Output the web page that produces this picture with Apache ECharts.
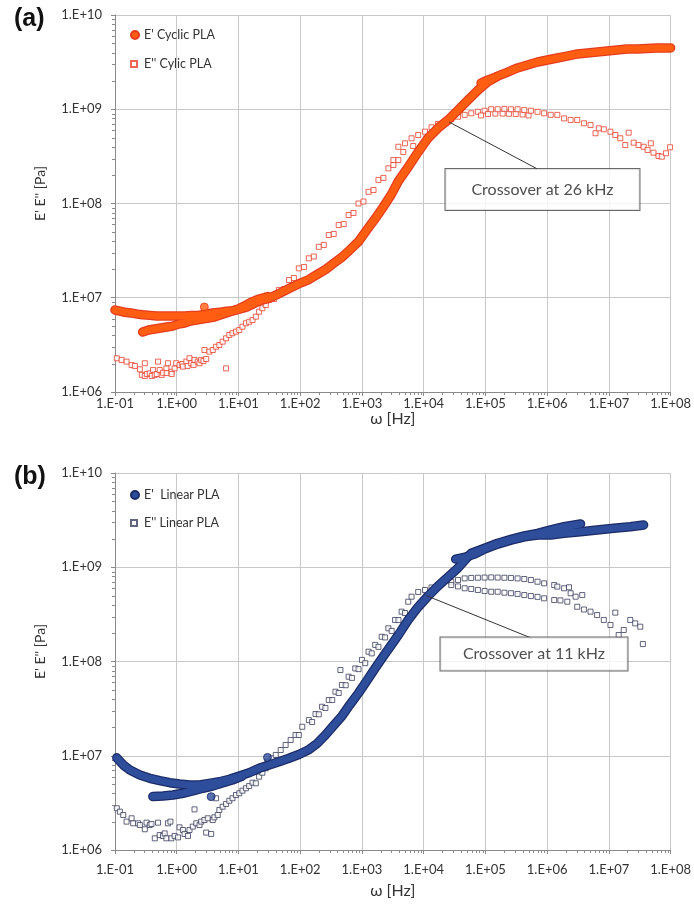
<!DOCTYPE html>
<html>
<head>
<meta charset="utf-8">
<script src="https://cdn.jsdelivr.net/npm/echarts@6/dist/echarts.min.js"></script>
<style>
  html, body { margin: 0; padding: 0; background: #ffffff; }
  #chart { width: 694px; height: 905px; }
</style>
</head>
<body>
<div id="chart"></div>
<script>
// ---------- (a) Cyclic PLA: storage modulus E' [Hz, Pa] ----------
const aStorageSweep1 = [[0.10,7.4e6],[0.12,7.2e6],[0.145,7.0e6],[0.18,6.9e6],[0.23,6.7e6],[0.28,6.6e6],[0.37,6.5e6],[0.47,6.4e6],[0.62,6.4e6],[0.80,6.4e6],[1.03,6.4e6],[1.34,6.4e6],[1.74,6.5e6],[2.25,6.5e6],[2.9,6.7e6],[3.8,6.9e6],[4.9,7.0e6],[6.4,7.2e6],[8.3,7.3e6],[10.7,7.6e6],[13.9,8.0e6],[17.9,8.7e6],[23,9.4e6],[30,9.8e6],[41,1.07e7],[55,1.18e7],[74,1.30e7],[103,1.44e7],[138,1.56e7],[186,1.76e7],[259,2.0e7],[349,2.32e7],[469,2.68e7],[631,3.2e7],[881,3.95e7],[1190,5.2e7],[1660,7.0e7],[2230,9.25e7],[3000,1.25e8],[3880,1.72e8],[5620,2.44e8],[8150,3.52e8],[1.18e4,4.95e8],[1.71e4,6.32e8],[2.48e4,7.69e8],[3.6e4,9.8e8],[5.2e4,1.25e9],[7.6e4,1.6e9],[1.09e5,1.95e9],[1.58e5,2.25e9],[2.3e5,2.48e9],[3.3e5,2.74e9],[4.8e5,2.95e9],[7.0e5,3.17e9],[1.01e6,3.33e9],[1.47e6,3.5e9],[2.1e6,3.67e9],[3.1e6,3.86e9],[4.5e6,3.95e9],[6.5e6,4.05e9],[9.4e6,4.15e9],[1.36e7,4.25e9],[1.96e7,4.36e9],[2.84e7,4.36e9],[4.1e7,4.41e9],[6.0e7,4.47e9],[1.0e8,4.47e9]];
const aStorageSweep2 = [[0.28,4.33e6],[0.35,4.55e6],[0.44,4.66e6],[0.55,4.77e6],[0.69,4.89e6],[0.86,5.0e6],[1.07,5.26e6],[1.34,5.39e6],[1.67,5.66e6],[2.09,5.8e6],[2.61,5.95e6],[3.26,6.1e6],[4.07,6.25e6],[5.09,6.56e6],[6.37,6.89e6],[7.95,7.23e6],[9.93,7.6e6],[12.4,8.17e6],[16.1,9.0e6],[21.6,9.7e6],[30,1.03e7]];
const aStorageStep = [[8.5e4,1.9e9],[1.1e5,2.05e9],[1.5e5,2.2e9]];
const aStorageStray = [[2.8,7.98e6]];

// ---------- (a) Cyclic PLA: loss modulus E'' ----------
const aLoss = [
  [0.107,2.28e6],[0.128,2.19e6],[0.154,2.10e6],[0.186,1.93e6],[0.21,1.89e6],[0.253,1.74e6],[0.272,1.52e6],[0.304,1.48e6],[0.304,2.02e6],[0.328,1.55e6],[0.366,1.58e6],[0.394,1.48e6],[0.414,1.71e6],[0.441,1.52e6],[0.474,1.55e6],[0.498,2.10e6],[0.53,1.71e6],[0.57,1.52e6],[0.598,1.60e6],[0.68,1.78e6],[0.688,1.59e6],[0.72,2.02e6],[0.82,1.64e6],[0.827,1.55e6],[0.924,1.78e6],[0.98,2.02e6],
  [1.11,1.93e6],[1.23,1.98e6],[1.26,1.86e6],[1.43,2.10e6],[1.5,1.89e6],[1.61,2.28e6],[1.72,2.02e6],[1.87,1.93e6],[1.94,2.19e6],[2.19,2.10e6],[2.34,2.02e6],[2.49,2.19e6],[2.71,2.13e6],[2.81,2.79e6],[3.0,2.24e6],[3.38,2.68e6],[3.83,2.79e6],[4.34,3.02e6],[4.9,3.15e6],[5.54,3.42e6],[6.3,1.78e6],[6.3,3.71e6],[7.1,4.03e6],[8.0,4.2e6],[9.1,4.37e6],
  [10.3,4.55e6],[11.6,4.93e6],[13.2,5.36e6],[14.9,5.56e6],[16.9,5.8e6],[19.1,6.3e6],[21.6,7.11e6],[24.4,7.74e6],[27.7,8.37e6],[31.3,9.47e6],[37.7,9.7e6],[45.4,1.21e7],[54.7,1.24e7],[65.8,1.54e7],[79,1.62e7],[95,2.05e7],
  [115,2.12e7],[138,2.62e7],[166,2.74e7],[200,3.47e7],[241,3.63e7],[290,4.63e7],[349,4.75e7],[420,5.91e7],[506,6.05e7],[608,7.55e7],[730,7.93e7],[880,1.0e8],
  [1060,1.05e8],[1280,1.33e8],[1540,1.39e8],[1850,1.78e8],[2230,1.87e8],[2680,2.36e8],[3230,2.56e8],[3230,2.89e8],[3890,2.89e8],[3890,4.0e8],[4670,3.52e8],[4970,4.35e8],[6360,4.92e8],[6770,4.07e8],[8150,5.33e8],
  [1.05e4,5.78e8],[1.34e4,6.43e8],[1.71e4,6.97e8],[2.19e4,7.37e8],[2.8e4,7.88e8],[3.6e4,8.34e8],[4.61e4,8.72e8],[5.89e4,9.06e8],[7.55e4,9.4e8],[9.7e4,9.65e8],
  [8.5e4,8.6e8],[1.1e5,8.9e8],[1.45e5,9.0e8],[1.9e5,9.0e8],[2.4e5,8.95e8],[3.1e5,8.9e8],[4.0e5,8.8e8],[5.0e5,8.6e8],
  [1.24e5,1.0e9],[1.58e5,1.0e9],[2.03e5,1.01e9],[2.59e5,1.0e9],[3.32e5,1.0e9],[4.26e5,9.8e8],[5.45e5,9.65e8],[6.98e5,9.4e8],[8.93e5,9.06e8],
  [1.14e6,8.72e8],[1.46e6,8.72e8],[1.88e6,8.0e8],[2.4e6,7.7e8],[3.07e6,7.7e8],[3.94e6,7.1e8],[5.04e6,6.8e8],[6.07e6,5.56e8],[6.87e6,6.28e8],[8.27e6,6.13e8],
  [1.06e7,5.78e8],[1.27e7,5.33e8],[1.53e7,4.92e8],[1.84e7,4.17e8],[2.09e7,5.64e8],[2.52e7,4.42e8],[3.03e7,4.17e8],[3.65e7,4.0e8],[4.23e7,3.7e8],[4.78e7,4.35e8],[5.28e7,3.46e8],[6.36e7,3.19e8],[7.19e7,3.14e8],[8.4e7,3.41e8],[9.8e7,3.95e8]
];

// ---------- (b) Linear PLA: storage modulus E' ----------
const bStorageSweep1 = [[0.107,9.5e6],[0.113,9.2e6],[0.136,8.0e6],[0.174,7.06e6],[0.253,6.25e6],[0.366,5.77e6],[0.53,5.44e6],[0.77,5.18e6],[1.11,5.02e6],[1.61,4.89e6],[2.34,4.89e6],[3.38,5.1e6],[4.9,5.3e6],[7.1,5.63e6],[10.3,6.1e6],[14.9,6.6e6],[21.6,7.36e6],[31.3,7.98e6],[45.4,8.66e6],[65.8,9.4e6],[95,1.03e7],[138,1.16e7],[186,1.34e7],[256,1.66e7],[349,2.1e7],[474,2.64e7],[631,3.45e7],[880,4.63e7],[1190,6.2e7],[1640,8.5e7],[2230,1.14e8],[2990,1.50e8],[3890,1.91e8],[5620,2.76e8],[8150,3.79e8],[1.18e4,4.95e8],[1.71e4,6.33e8],[2.48e4,7.88e8],[3.6e4,9.84e8],[4.66e4,1.19e9],[5.9e4,1.41e9],[9.7e4,1.59e9],[1.58e5,1.8e9],[2.59e5,1.98e9],[4.26e5,2.15e9],[6.98e5,2.29e9],[1.14e6,2.49e9],[1.88e6,2.69e9],[3.47e6,2.88e9]];
const bStorageSweep2Low = [[0.41,3.7e6],[0.441,3.68e6],[0.598,3.74e6],[0.867,3.83e6],[1.26,4.0e6],[1.82,4.23e6],[2.64,4.52e6],[3.79,4.77e6],[5.48,5.14e6],[7.95,5.53e6],[11.5,6.1e6]];
const bStorageSweep2High = [[3.3e4,1.22e9],[4.5e4,1.27e9],[6.7e4,1.38e9],[9.7e4,1.56e9],[1.58e5,1.76e9],[2.6e5,1.94e9],[4.3e5,2.1e9],[7.0e5,2.2e9],[1.14e6,2.2e9],[1.88e6,2.29e9],[3.47e6,2.38e9],[6.45e6,2.49e9],[1.2e7,2.59e9],[2.22e7,2.69e9],[3.65e7,2.81e9]];
const bStorageStray = [[3.61,3.68e6],[29.5,9.6e6]];

// ---------- (b) Linear PLA: loss modulus E'' ----------
const bLoss = [
  [0.107,2.77e6],[0.12,2.55e6],[0.136,2.35e6],[0.154,2.0e6],[0.186,2.17e6],[0.197,1.92e6],[0.237,1.92e6],[0.253,1.84e6],[0.304,1.66e6],[0.324,1.95e6],[0.366,1.84e6],[0.39,1.89e6],[0.441,1.33e6],[0.498,1.95e6],[0.53,1.44e6],[0.598,1.41e6],[0.638,1.5e6],[0.68,1.33e6],[0.72,1.92e6],[0.79,2.0e6],[0.82,1.33e6],[0.924,1.41e6],
  [1.05,1.36e6],[1.11,1.74e6],[1.26,1.63e6],[1.34,1.48e6],[1.52,1.41e6],[1.61,1.63e6],[1.82,1.77e6],[1.94,2.7e6],[2.07,1.92e6],[2.34,1.84e6],[2.49,2.0e6],[2.81,2.08e6],[3.0,1.53e6],[3.18,2.17e6],[3.61,1.48e6],[3.83,2.08e6],[4.07,2.22e6],[4.34,3.54e6],[4.61,2.35e6],[4.9,2.66e6],[5.54,2.88e6],[6.3,3.08e6],[7.1,3.33e6],[8.0,3.54e6],[9.1,3.83e6],
  [10.3,4.0e6],[11.6,4.26e6],[13.2,4.52e6],[14.9,4.77e6],[16.9,5.18e6],[19.1,5.1e6],[21.6,6.0e6],[24.4,6.6e6],[27.7,7.36e6],[29.5,8.66e6],[35.4,9.4e6],[40.2,1.02e7],[48.3,1.15e7],[58.1,1.30e7],[70,1.47e7],[84,1.66e7],[95,1.66e7],
  [108,2.03e7],[138,2.39e7],[156,2.28e7],[177,2.77e7],[200,2.75e7],[226,3.31e7],[256,3.21e7],[290,3.9e7],[330,3.9e7],[372,4.78e7],[420,4.63e7],[448,8.13e7],[474,5.63e7],[545,5.6e7],[608,6.9e7],[688,6.7e7],[779,8.45e7],[880,8.3e7],
  [1000,1.04e8],[1130,9.6e7],[1280,1.27e8],[1440,1.22e8],[1640,1.5e8],[1850,1.43e8],[2090,1.83e8],[2370,1.8e8],[2680,2.25e8],[3030,2.11e8],[3440,2.76e8],[3900,2.75e8],[4390,3.38e8],[4970,3.27e8],[5620,4.31e8],[6360,4.87e8],[8150,5.47e8],
  [1.05e4,5.74e8],[1.34e4,6.1e8],[1.71e4,6.47e8],
  [2.8e4,7.02e8],[3.6e4,7.33e8],[4.61e4,7.62e8],[5.89e4,7.7e8],[7.55e4,7.74e8],[9.7e4,7.77e8],[1.24e5,7.8e8],[1.58e5,7.77e8],[2.03e5,7.74e8],[2.59e5,7.7e8],[3.32e5,7.62e8],[4.26e5,7.5e8],[5.45e5,7.33e8],[6.98e5,7.02e8],[8.93e5,6.75e8],[1.3e6,6.47e8],[1.46e6,6.23e8],[1.88e6,5.98e8],[2.26e6,6.13e8],[2.4e6,5.3e8],[2.89e6,4.87e8],[3.7e6,5.07e8],
  [2.8e4,6.47e8],[3.6e4,6.26e8],[4.61e4,5.98e8],[5.89e4,5.88e8],[7.55e4,5.74e8],[9.7e4,5.6e8],[1.24e5,5.5e8],[1.58e5,5.5e8],[2.03e5,5.37e8],[2.59e5,5.3e8],[3.32e5,5.21e8],[4.26e5,5.07e8],[5.45e5,4.95e8],[6.98e5,4.85e8],[8.93e5,4.68e8],[1.3e6,4.49e8],[1.64e6,4.45e8],[2.12e6,4.31e8],[3.07e6,3.81e8],[3.94e6,3.56e8],[5.04e6,3.38e8],[6.45e6,3.11e8],[8.27e6,2.76e8],
  [1.06e7,2.44e8],[1.27e7,3.3e8],[1.44e7,1.91e8],[1.74e7,2.16e8],[2.22e7,2.76e8],[2.67e7,2.54e8],[3.22e7,2.34e8],[3.55e7,1.53e8]
];

// ---------- crossover callouts ----------
const crossoverFreq = [2.6e4, 1.1e4];          // Hz
const crossoverModulus = [7.3e8, 5.0e8];       // Pa
const crossoverText = ['Crossover at 26 kHz', 'Crossover at 11 kHz'];
const calloutAnchor = [[6.98e5, 2.32e8], [5.58e5, 1.77e8]];
const calloutBox = [[8.4e5, 1.41e8], [6.12e5, 1.20e8]];
const calloutBoxSize = [[194, 41], [187, 33]];

// ---------- axes ----------
const xRange = [0.1, 1e8];
const yRange = [1e6, 1e10];

const FONT = 'Lato, "Liberation Sans", sans-serif';
const AXIS_GRAY = '#8a8a8a';
const GRID_GRAY = '#c8c8c8';

function sciLabel(v) {
  const e = Math.round(Math.log10(v));
  return '1.E' + (e < 0 ? '-' : '+') + String(Math.abs(e)).padStart(2, '0');
}

const panels = [
  {
    top: 15, xLabelMargin: 5, xNameGap: 16, legendTop: [28, 57],
    storageName: "E' Cyclic PLA", lossName: "E'' Cylic PLA",
    fill: '#ff5e12', edge: '#e63c1e', lossEdge: '#e8402c',
    sweeps: [aStorageSweep1, aStorageSweep2, aStorageStep],
    stray: aStorageStray, loss: aLoss
  },
  {
    top: 473, xLabelMargin: 13, xNameGap: 33, legendTop: [488, 516],
    storageName: "E'  Linear PLA", lossName: "E'' Linear PLA",
    fill: '#2e4d9b', edge: '#1c2c68', lossEdge: '#3a3f5c',
    sweeps: [bStorageSweep1, bStorageSweep2Low, bStorageSweep2High],
    stray: bStorageStray, loss: bLoss
  }
];

const grid = panels.map(p => ({ left: 115, top: p.top, width: 559, height: 377, containLabel: false }));

const xAxis = panels.map((p, i) => ({
  type: 'log', logBase: 10, gridIndex: i, min: xRange[0], max: xRange[1], splitNumber: 9,
  name: 'ω [Hz]', nameLocation: 'middle', nameGap: p.xNameGap,
  nameTextStyle: { fontFamily: 'Lato, "DejaVu Sans", sans-serif', fontSize: 16, color: '#333' },
  axisLine: { show: true, onZero: false, lineStyle: { color: AXIS_GRAY, width: 1 } },
  axisTick: { show: true, length: 4, lineStyle: { color: AXIS_GRAY } },
  minorTick: { show: false },
  splitLine: { show: true, lineStyle: { color: GRID_GRAY, width: 1 } },
  axisLabel: { formatter: sciLabel, fontFamily: FONT, fontSize: 13, color: '#333', margin: p.xLabelMargin }
}));

const yAxis = panels.map((p, i) => ({
  type: 'log', logBase: 10, gridIndex: i, min: yRange[0], max: yRange[1], splitNumber: 4,
  axisLine: { show: true, onZero: false, lineStyle: { color: AXIS_GRAY, width: 1 } },
  axisTick: { show: true, length: 4, lineStyle: { color: AXIS_GRAY } },
  minorTick: { show: false },
  splitLine: { show: true, lineStyle: { color: GRID_GRAY, width: 1 } },
  axisLabel: { formatter: sciLabel, fontFamily: FONT, fontSize: 13, color: '#333', margin: 13 }
}));

const series = [];
panels.forEach((p, i) => {
  // loss modulus: open squares
  series.push({
    name: p.lossName, type: 'scatter', xAxisIndex: i, yAxisIndex: i,
    data: p.loss, symbol: 'rect', symbolSize: 5, z: 2,
    itemStyle: { color: '#ffffff', borderColor: p.lossEdge, borderWidth: 1 }
  });
  // storage modulus: dense filled markers, drawn as a dark edge with a fill on top
  p.sweeps.forEach(d => {
    series.push({
      name: p.storageName + ' edge', type: 'line', xAxisIndex: i, yAxisIndex: i,
      data: d, showSymbol: false, symbol: 'none', z: 3, silent: true,
      lineStyle: { color: p.edge, width: 9.5, cap: 'round', join: 'round' }
    });
  });
  p.sweeps.forEach(d => {
    series.push({
      name: p.storageName, type: 'line', xAxisIndex: i, yAxisIndex: i,
      data: d, showSymbol: false, symbol: 'circle', z: 4,
      itemStyle: { color: p.fill, borderColor: p.edge, borderWidth: 1 },
      lineStyle: { color: p.fill, width: 7, cap: 'round', join: 'round' }
    });
  });
  series.push({
    name: p.storageName, type: 'scatter', xAxisIndex: i, yAxisIndex: i,
    data: p.stray, symbol: 'circle', symbolSize: 8, z: 4,
    itemStyle: { color: p.fill, borderColor: p.edge, borderWidth: 1 }
  });
  // callout leader line
  series.push({
    name: 'callout line ' + i, type: 'line', xAxisIndex: i, yAxisIndex: i,
    data: [[crossoverFreq[i], crossoverModulus[i]], calloutAnchor[i]],
    showSymbol: false, symbol: 'none', z: 6, silent: true,
    lineStyle: { color: '#333333', width: 1 }
  });
  // callout box, drawn as the label of an invisible point
  series.push({
    name: 'callout box ' + i, type: 'scatter', xAxisIndex: i, yAxisIndex: i,
    data: [calloutBox[i]], symbol: 'circle', symbolSize: 1, z: 7, silent: true,
    itemStyle: { color: 'rgba(0,0,0,0)' },
    label: {
      show: true, position: 'inside', formatter: crossoverText[i],
      fontFamily: FONT, fontSize: 16, color: '#222222',
      backgroundColor: '#ffffff', borderColor: '#444444', borderWidth: 1,
      width: calloutBoxSize[i][0], height: calloutBoxSize[i][1], lineHeight: calloutBoxSize[i][1],
      align: 'center', verticalAlign: 'middle', padding: 0
    }
  });
});

const legend = [];
panels.forEach((p, i) => {
  legend.push({
    left: 130, top: p.legendTop[0], orient: 'vertical', itemWidth: 8, itemHeight: 8, itemGap: 0, padding: 0,
    data: [{ name: p.storageName, icon: 'circle' }],
    textStyle: { fontFamily: FONT, fontSize: 12.5, color: '#333', lineHeight: 14 },
    selectedMode: false
  });
  legend.push({
    left: 130, top: p.legendTop[1], orient: 'vertical', itemWidth: 6, itemHeight: 6, itemGap: 0, padding: 0,
    data: [{ name: p.lossName, icon: 'rect' }],
    textStyle: { fontFamily: FONT, fontSize: 12.5, color: '#333', lineHeight: 14, padding: [0, 0, 0, 2] },
    selectedMode: false
  });
});

const chart = echarts.init(document.getElementById('chart'), null, { renderer: 'canvas' });
chart.setOption({
  animation: false,
  backgroundColor: '#ffffff',
  textStyle: { fontFamily: FONT },
  grid, xAxis, yAxis, series, legend
});

// panel letters, y-axis titles and log minor ticks
const elements = [];
panels.forEach((p, i) => {
  const x0 = chart.convertToPixel({ xAxisIndex: i }, xRange[0]);
  const yBottom = chart.convertToPixel({ yAxisIndex: i }, yRange[0]);
  const yTop = chart.convertToPixel({ yAxisIndex: i }, yRange[1]);
  elements.push({
    type: 'text', left: 14, top: yTop - 8,
    style: { text: i === 0 ? '(a)' : '(b)', font: 'bold 25px "Liberation Sans", Arial, sans-serif', fill: '#111' }
  });
  elements.push({
    type: 'text', x: 40, y: (yTop + yBottom) / 2 - 10, rotation: Math.PI / 2,
    style: { text: "E' E'' [Pa]", font: '14px ' + FONT, fill: '#333', align: 'center', verticalAlign: 'middle' }
  });
  for (let k = Math.log10(xRange[0]); k < Math.log10(xRange[1]); k++) {
    for (let m = 2; m <= 9; m++) {
      const px = Math.round(chart.convertToPixel({ xAxisIndex: i }, m * Math.pow(10, k))) + 0.5;
      elements.push({ type: 'line', silent: true,
        shape: { x1: px, y1: yBottom, x2: px, y2: yBottom + 3 },
        style: { stroke: AXIS_GRAY, lineWidth: 1 } });
    }
  }
  for (let k = Math.log10(yRange[0]); k < Math.log10(yRange[1]); k++) {
    for (let m = 2; m <= 9; m++) {
      const py = Math.round(chart.convertToPixel({ yAxisIndex: i }, m * Math.pow(10, k))) + 0.5;
      elements.push({ type: 'line', silent: true,
        shape: { x1: x0 - 3, y1: py, x2: x0, y2: py },
        style: { stroke: AXIS_GRAY, lineWidth: 1 } });
    }
  }
});
chart.setOption({ graphic: { elements } });
</script>
</body>
</html>
